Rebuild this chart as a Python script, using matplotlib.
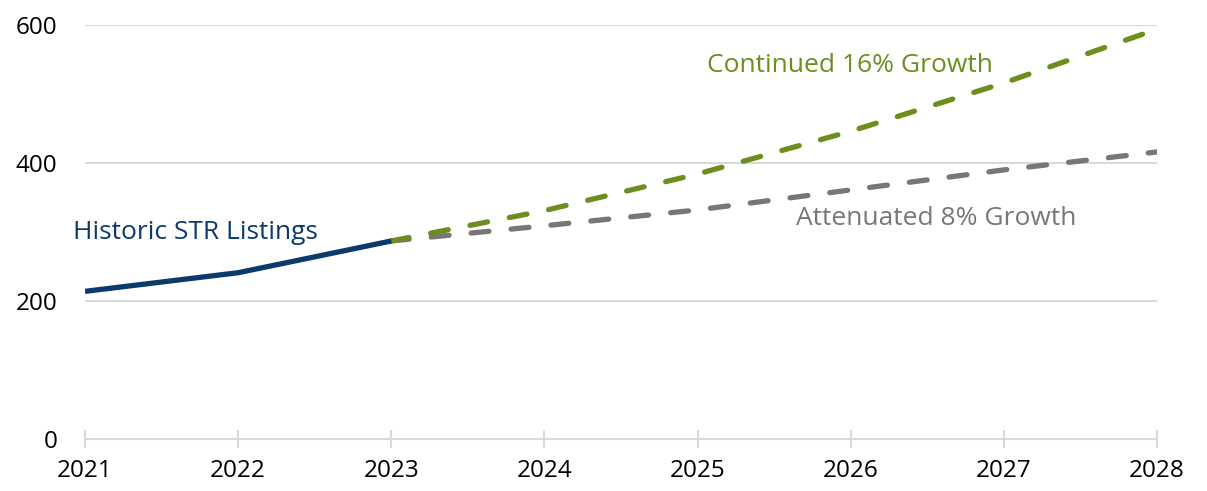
import matplotlib
matplotlib.use('Agg')
import matplotlib.pyplot as plt

# values
hist_years = [2021, 2022, 2023]
hist_values = [214, 241, 287]

proj_years = [2023, 2024, 2025, 2026, 2027, 2028]
growth_16 = [287, 331, 384, 446, 516, 594]
growth_8 = [287, 309, 332, 361, 390, 416]

year_ticks = [2021, 2022, 2023, 2024, 2025, 2026, 2027, 2028]
y_ticks = [0, 200, 400, 600]

navy = '#0a3a6e'
green = '#6b8e1c'
grey = '#7a7678'
grid = '#d9d9d9'

plt.rcParams['font.family'] = ['Open Sans', 'DejaVu Sans']

fig = plt.figure(figsize=(12.07, 4.91), dpi=100)
ax = fig.add_axes([85 / 1207, 1 - 439 / 491, (1157 - 85) / 1207, (439 - 25) / 491])

ax.plot(proj_years, growth_8, color=grey, lw=3.8, dashes=(3.4, 4.2),
        dash_capstyle='round', zorder=3)
ax.plot(proj_years, growth_16, color=green, lw=3.8, dashes=(3.4, 4.2),
        dash_capstyle='round', zorder=4)
ax.plot(hist_years, hist_values, color=navy, lw=3.8, solid_capstyle='butt', zorder=5)

ax.set_xlim(2021, 2028)
ax.set_ylim(0, 600)
ax.set_xticks(year_ticks)
ax.set_yticks(y_ticks)
ax.set_xticklabels([str(y) for y in year_ticks], fontsize=17.5)
ax.set_yticklabels([str(v) for v in y_ticks], fontsize=17.5)

for v in y_ticks[1:]:
    ax.axhline(v, color=grid, lw=1.5, zorder=1)

for s in ['top', 'right', 'left']:
    ax.spines[s].set_visible(False)
ax.spines['bottom'].set_color(grid)
ax.spines['bottom'].set_linewidth(1.5)
ax.spines['bottom'].set_zorder(1)

ax.tick_params(axis='y', length=0, pad=20)
ax.tick_params(axis='x', direction='inout', length=13, width=1.5, color=grid, pad=8)

ax.text(2020.92, 299, 'Historic STR Listings', color=navy, fontsize=19, va='center')
ax.text(2025.06, 542, 'Continued 16% Growth', color=green, fontsize=19, va='center')
ax.text(2025.64, 319, 'Attenuated 8% Growth', color=grey, fontsize=19, va='center')

fig.savefig('out.png', dpi=100)
